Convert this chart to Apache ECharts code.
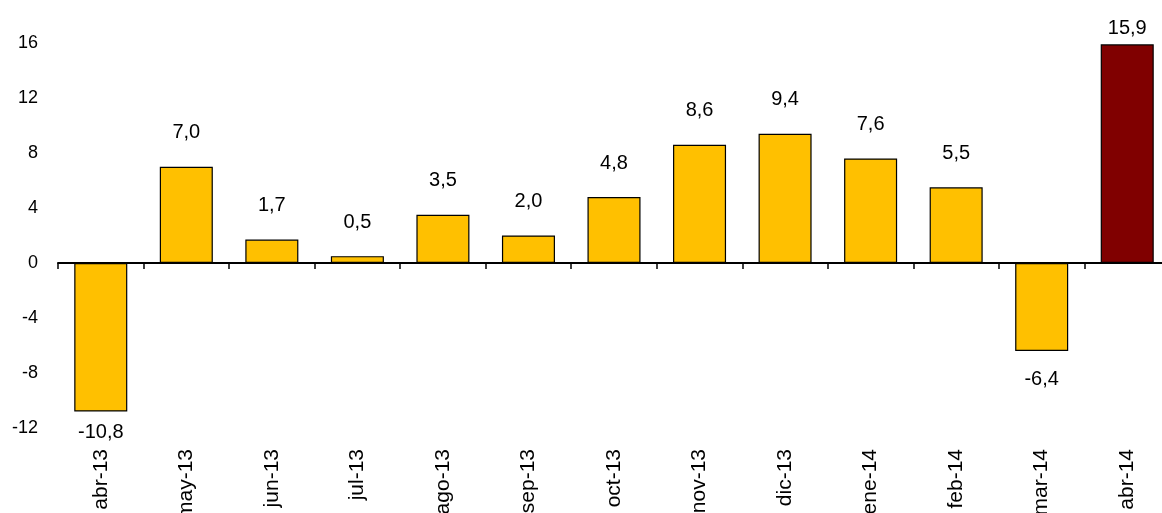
<!DOCTYPE html>
<html>
<head>
<meta charset="utf-8">
<script src="https://cdn.jsdelivr.net/npm/echarts@6/dist/echarts.min.js"></script>
<style>
  html, body { margin: 0; padding: 0; background: #fff; }
  #chart { width: 1162px; height: 513px; }
</style>
</head>
<body>
<div id="chart"></div>
<script>
const months = ['abr-13', 'may-13', 'jun-13', 'jul-13', 'ago-13', 'sep-13', 'oct-13',
  'nov-13', 'dic-13', 'ene-14', 'feb-14', 'mar-14', 'abr-14']
const values = [-10.8, 7.0, 1.7, 0.5, 3.5, 2.0, 4.8, 8.6, 9.4, 7.6, 5.5, -6.4, 15.9]

const font = '"Liberation Sans", Arial, sans-serif'
const chart = echarts.init(document.getElementById('chart'))

const barData = values.map((v, i) => {
  const last = i === values.length - 1
  let distance = v >= 0 ? 24 : 18
  if (last) distance = 6
  if (v < -10) distance = 11
  return {
    value: v,
    itemStyle: { color: last ? '#800000' : '#FFC000' },
    label: { position: v >= 0 ? 'top' : 'bottom', distance: distance }
  }
})

chart.setOption({
  animation: false,
  backgroundColor: '#fff',
  grid: { left: 58, top: 43, width: 1112, bottom: 85, containLabel: false, outerBoundsMode: 'none' },
  xAxis: {
    type: 'category',
    data: months,
    axisLine: { onZero: true, lineStyle: { color: '#000', width: 2 } },
    axisTick: { show: true, length: 6, lineStyle: { color: '#000', width: 1.5 } },
    axisLabel: {
      rotate: 90,
      margin: 21,
      interval: 0,
      color: '#000',
      fontSize: 21,
      fontFamily: font
    }
  },
  yAxis: {
    type: 'value',
    min: -12,
    max: 16,
    interval: 4,
    axisLine: { show: false },
    axisTick: { show: false },
    splitLine: { show: false },
    axisLabel: { margin: 20, color: '#000', fontSize: 18, fontFamily: font }
  },
  series: [{
    type: 'bar',
    data: barData,
    barCategoryGap: '38%',
    itemStyle: { borderColor: '#000', borderWidth: 1.2 },
    label: {
      show: true,
      color: '#000',
      fontSize: 20,
      fontFamily: font,
      formatter: p => p.value.toFixed(1).replace('.', ',')
    }
  }]
})
</script>
</body>
</html>
